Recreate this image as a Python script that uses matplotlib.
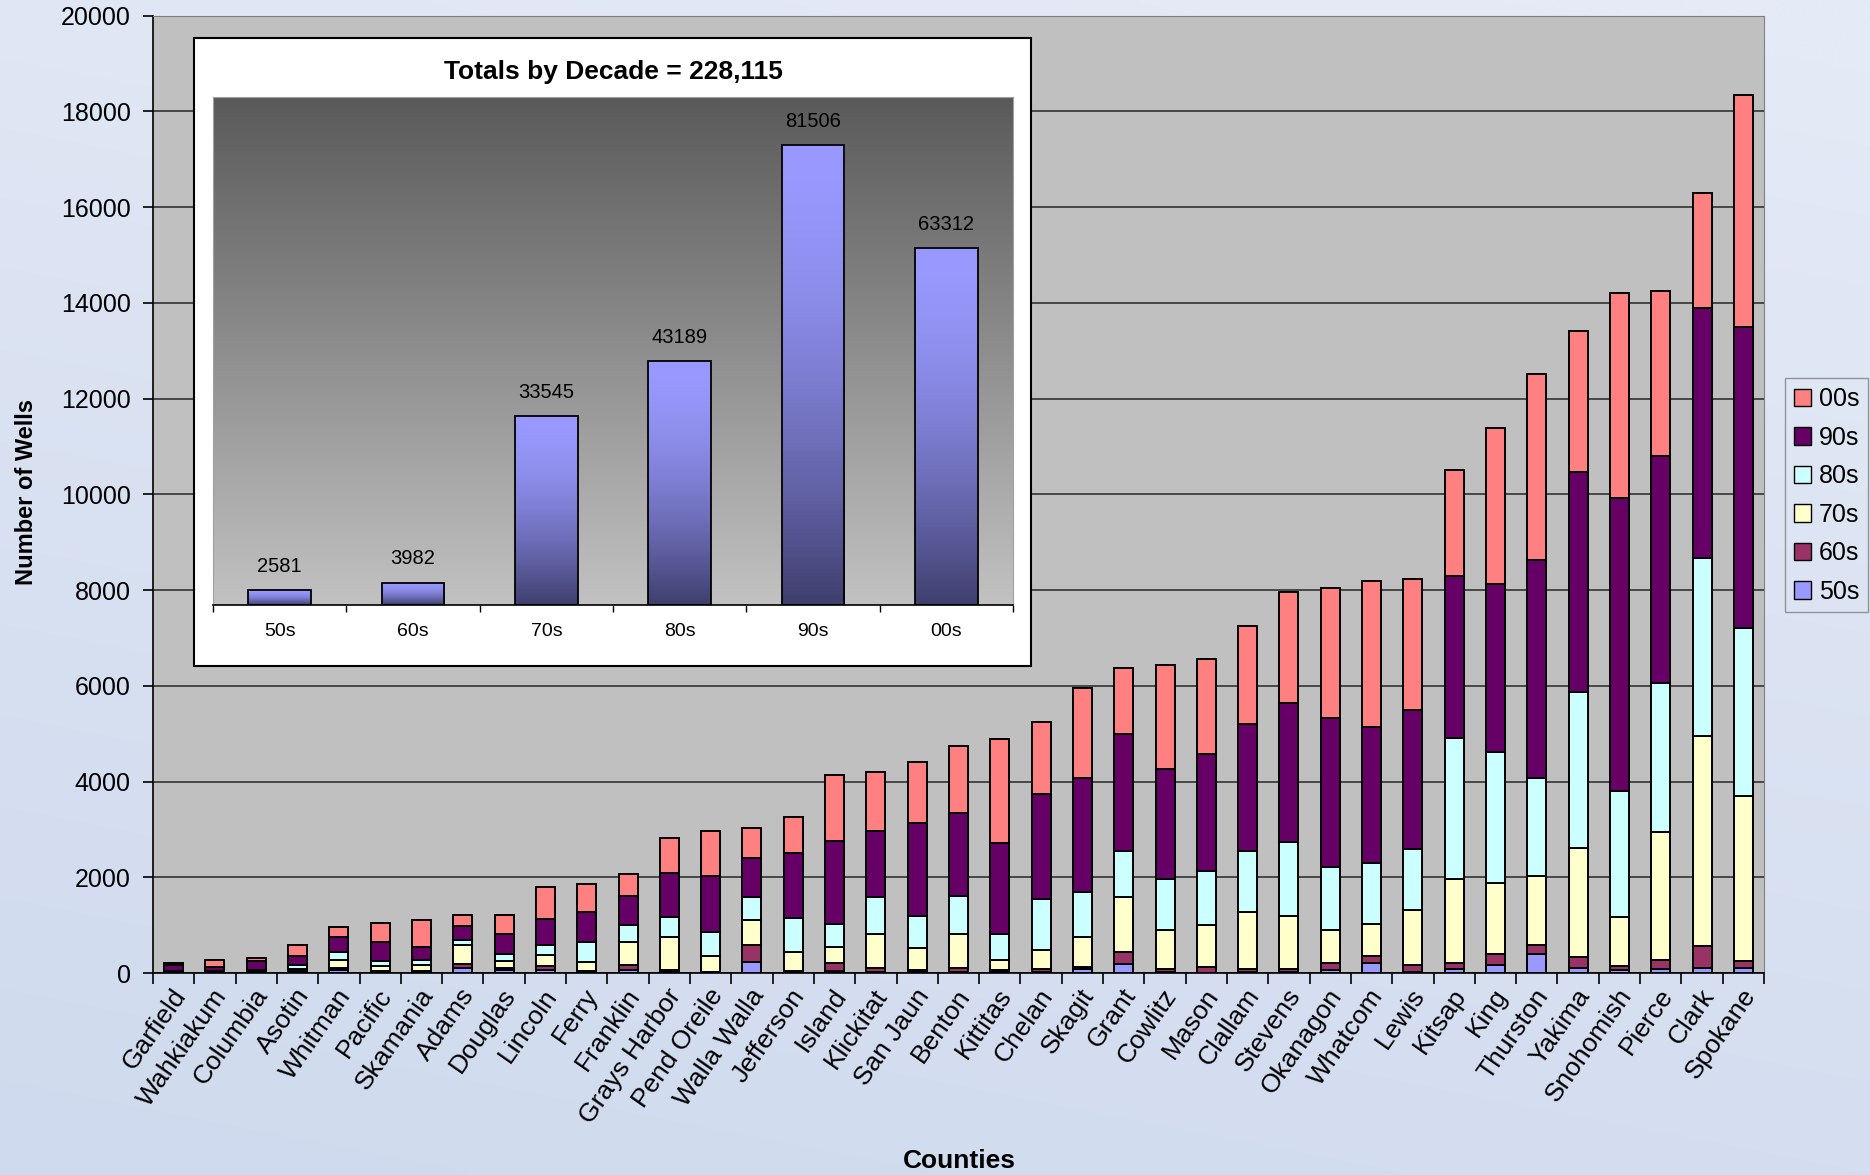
import numpy as np
import matplotlib
matplotlib.use("Agg")
import matplotlib.pyplot as plt
from matplotlib.patches import Rectangle, Patch
from matplotlib.colors import to_rgb
from matplotlib.transforms import ScaledTranslation

plt.rcParams["font.family"] = ["Liberation Sans", "DejaVu Sans"]

# County data, wells drilled per decade
counties = ["Garfield", "Wahkiakum", "Columbia", "Asotin", "Whitman", "Pacific",
            "Skamania", "Adams", "Douglas", "Lincoln", "Ferry", "Franklin",
            "Grays Harbor", "Pend Oreile", "Walla Walla", "Jefferson", "Island",
            "Klickitat", "San Jaun", "Benton", "Kittitas", "Chelan", "Skagit",
            "Grant", "Cowlitz", "Mason", "Clallam", "Stevens", "Okanagon",
            "Whatcom", "Lewis", "Kitsap", "King", "Thurston", "Yakima",
            "Snohomish", "Pierce", "Clark", "Spokane"]
wells_50s = [5, 5, 10, 15, 55, 25, 20, 105, 70, 55, 15, 70, 28, 5, 230, 15, 42, 20, 20, 25,
             20, 20, 80, 198, 15, 10, 15, 15, 57, 219, 30, 78, 170, 404, 104, 65, 78, 104, 104]
wells_60s = [10, 10, 20, 25, 55, 20, 20, 90, 40, 84, 20, 105, 42, 10, 348, 20, 163, 79, 51, 74,
             37, 58, 47, 233, 63, 124, 63, 63, 162, 128, 140, 131, 234, 183, 235, 78, 196, 470, 144]
wells_70s = [15, 15, 20, 40, 167, 98, 118, 383, 140, 237, 202, 474, 683, 335, 523, 411, 347, 721,
             445, 721, 219, 403, 623, 1153, 827, 863, 1188, 1117, 672, 686, 1147, 1747, 1474,
             1435, 2269, 1018, 2673, 4368, 3455]
wells_80s = [10, 10, 20, 90, 167, 98, 112, 105, 153, 209, 411, 348, 411, 509, 481, 711, 481, 764,
             679, 793, 544, 1068, 933, 969, 1061, 1132, 1273, 1549, 1330, 1259, 1278, 2947, 2738,
             2060, 3262, 2634, 3117, 3730, 3508]
wells_90s = [120, 95, 180, 195, 300, 404, 272, 307, 418, 544, 627, 613, 927, 1164, 822, 1352,
             1718, 1380, 1938, 1725, 1896, 2200, 2391, 2441, 2299, 2454, 2653, 2900, 3105, 2857,
             2895, 3390, 3508, 4538, 4603, 6117, 4736, 5229, 6285]
wells_00s = [50, 140, 60, 223, 216, 390, 558, 216, 383, 662, 585, 460, 739, 934, 620, 760, 1380,
             1230, 1273, 1408, 2171, 1485, 1889, 1379, 2178, 1967, 2065, 2306, 2709, 3042, 2740,
             2218, 3261, 3900, 2947, 4291, 3442, 2399, 4838]

# Inset: totals by decade
decades = ["50s", "60s", "70s", "80s", "90s", "00s"]
totals = [2581, 3982, 33545, 43189, 81506, 63312]

series = [("50s", wells_50s, "#9999ff"), ("60s", wells_60s, "#993366"),
          ("70s", wells_70s, "#ffffcc"), ("80s", wells_80s, "#ccffff"),
          ("90s", wells_90s, "#660066"), ("00s", wells_00s, "#ff8080")]

fig = plt.figure(figsize=(18.7, 11.75), dpi=100)

# light blue page background
bg = fig.add_axes([0, 0, 1, 1], zorder=0)
ys = np.linspace(0, 1, 200)[:, None]
xs = np.linspace(0, 1, 200)[None, :]
top_c = np.array(to_rgb("#e4eaf6"))
bot_c = np.array(to_rgb("#cfdaee"))
mix = np.clip(ys * 0.8 - xs * 0.25 + 0.2, 0, 1)[..., None]
bg.imshow(top_c * (1 - mix) + bot_c * mix, extent=[0, 1, 0, 1], aspect="auto",
          interpolation="bilinear", origin="upper")
bg.axis("off")

# main stacked bar chart
ax = fig.add_axes([0.0818, 0.1719, 0.8615, 0.8149], zorder=1)
ax.set_facecolor("#c0c0c0")
x = np.arange(len(counties))
bottom = np.zeros(len(counties))
for name, vals, col in series:
    ax.bar(x, vals, 0.46, bottom=bottom, color=col, edgecolor="black", linewidth=1.4,
           label=name, zorder=3)
    bottom += np.array(vals)

ax.set_xlim(-0.5, len(counties) - 0.5)
ax.set_ylim(0, 20000)
ax.set_yticks(np.arange(0, 20001, 2000))
ax.yaxis.grid(True, color="#333333", linewidth=1.2, zorder=1)
ax.set_axisbelow(True)
ax.tick_params(axis="y", labelsize=18, length=7, width=1.2, pad=9)
ax.set_xticks(x)
ax.set_xticklabels(counties, rotation=55, ha="right", va="center", rotation_mode="anchor",
                   fontsize=19)
ax.tick_params(axis="x", which="major", length=0, pad=13)
shift = ScaledTranslation(0.07, 0, fig.dpi_scale_trans)
for lbl in ax.get_xticklabels():
    lbl.set_transform(lbl.get_transform() + shift)
ax.set_xticks(np.arange(-0.5, len(counties), 1), minor=True)
ax.tick_params(axis="x", which="minor", length=8, width=1.2)
for s in ["top", "right"]:
    ax.spines[s].set_color("#808080")
for s in ["left", "bottom"]:
    ax.spines[s].set_color("black")
    ax.spines[s].set_linewidth(1.2)

fig.text(0.014, 0.581, "Number of Wells", rotation=90, ha="center", va="center",
         fontsize=17, fontweight="bold")
fig.text(0.513, 0.012, "Counties", ha="center", va="center", fontsize=19, fontweight="bold")

handles = [Patch(facecolor=col, edgecolor="black", label=name) for name, _, col in series[::-1]]
leg = fig.legend(handles=handles, loc="upper left", bbox_to_anchor=(0.9545, 0.678),
                 borderaxespad=0, fontsize=18, handlelength=0.7, handleheight=0.7,
                 handletextpad=0.3, labelspacing=0.58, borderpad=0.35, fancybox=False,
                 frameon=True)
leg.get_frame().set_facecolor("none")
leg.get_frame().set_edgecolor("#808080")

# inset white box
fig.patches.append(Rectangle((0.1037, 0.4332), 0.4476, 0.5347, transform=fig.transFigure,
                             facecolor="white", edgecolor="black", linewidth=1.5, zorder=2))
fig.text(0.328, 0.939, "Totals by Decade = 228,115", ha="center", va="center",
         fontsize=19, fontweight="bold", zorder=4)

ins = fig.add_axes([0.1139, 0.4851, 0.4278, 0.4323], zorder=3)
g = np.linspace(0, 1, 256)[:, None]
c_top = np.array(to_rgb("#5a5a5a"))
c_bot = np.array(to_rgb("#c2c2c2"))
ins.imshow((c_top * (1 - g) + c_bot * g).reshape(256, 1, 3),
           extent=[-0.5, 5.5, 0, 90000], aspect="auto", origin="upper", zorder=0)
b_top = np.array(to_rgb("#9999ff"))
b_bot = np.array(to_rgb("#3f3f6e"))
w = 0.47
for i, val in enumerate(totals):
    t = np.linspace(0, 1, 128)[:, None] ** 1.7
    grad = (b_top * (1 - t) + b_bot * t).reshape(128, 1, 3)
    ins.imshow(grad, extent=[i - w / 2, i + w / 2, 0, val], aspect="auto", origin="upper",
               zorder=2)
    ins.add_patch(Rectangle((i - w / 2, 0), w, val, fill=False, edgecolor="black",
                            linewidth=1.3, zorder=3))
    ins.text(i, val + 2500, str(val), ha="center", va="bottom", fontsize=14.5)
ins.set_xlim(-0.5, 5.5)
ins.set_ylim(0, 90000)
ins.set_yticks([])
ins.set_xticks(range(6))
ins.set_xticklabels(decades, fontsize=14)
ins.tick_params(axis="x", which="major", length=0, pad=13)
ins.set_xticks(np.arange(-0.5, 6, 1), minor=True)
ins.tick_params(axis="x", which="minor", length=5, width=1)
for s in ["top", "right", "left"]:
    ins.spines[s].set_color("#a0a0a0")
ins.spines["bottom"].set_color("black")
ins.spines["bottom"].set_linewidth(1.2)

fig.savefig("out.png", dpi=100)
